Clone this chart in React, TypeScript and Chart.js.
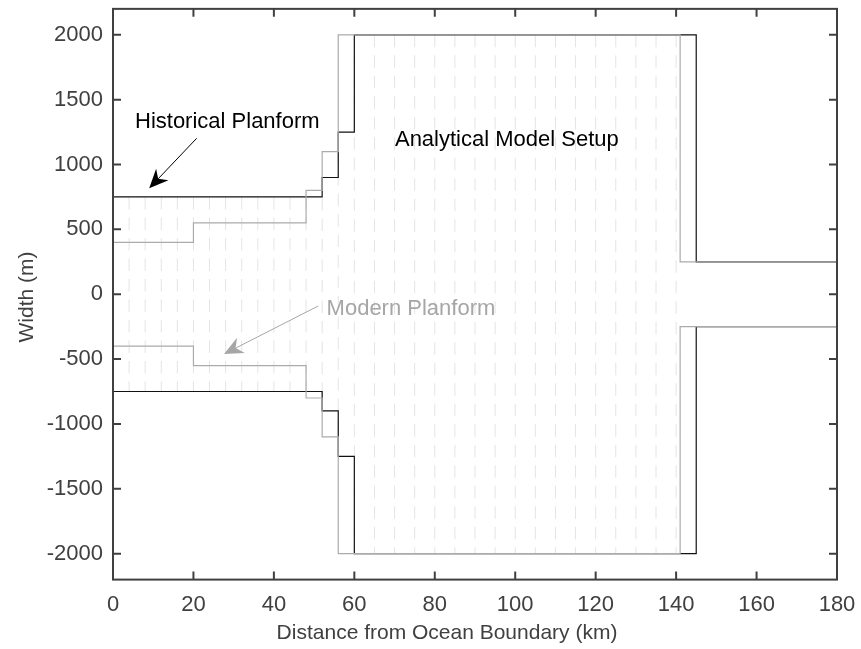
import React, { useEffect, useRef } from "react";
import { Chart, registerables } from "chart.js";

Chart.register(...registerables);

// Axis tick values
const xTicks = [0, 20, 40, 60, 80, 100, 120, 140, 160, 180];
const yTicks = [-2000, -1500, -1000, -500, 0, 500, 1000, 1500, 2000];

// Historical planform: half-width (m) beginning at each distance (km)
const historicalX = [0, 52, 56, 60, 145, 180];
const historicalW = [750, 900, 1250, 2000, 250, 250];

// Modern planform: half-width (m) beginning at each distance (km)
const modernX = [0, 20, 48, 52, 56, 141, 180];
const modernW = [400, 550, 800, 1100, 2000, 250, 250];

// Analytical model grid cell boundaries (km)
const gridX = [4, 8, 12, 16, 20, 24, 28, 32, 36, 40, 44, 48, 52, 56, 60, 65, 70, 75, 80, 85, 90, 95, 100, 105, 110, 115, 120, 125, 130, 135, 140];

// Annotations (data coordinates)
const historicalLabel = { text: "Historical Planform", x: 5.47, y: 1279 };
const historicalArrow = { fromX: 20.8, fromY: 1202, toX: 9.0, toY: 817 };
const modernLabel = { text: "Modern Planform", x: 53.1, y: -160 };
const modernArrow = { fromX: 51.0, fromY: -91, toX: 27.6, toY: -461 };
const modelLabel = { text: "Analytical Model Setup", x: 70.1, y: 1143 };

const xTitle = "Distance from Ocean Boundary (km)";
const yTitle = "Width (m)";

const FONT = "'Liberation Sans', Arial, Helvetica, sans-serif";
const AXIS = "#404040";
const BLACK = "#111111";
const GRAY = "#ababab";
const DASH = "#e4e4e4";

function widthAt(x: number): number {
  let w = historicalW[0];
  for (let i = 0; i < historicalX.length; i++) {
    if (historicalX[i] <= x) w = historicalW[i];
  }
  return w;
}

function outline(xs: number[], ws: number[], sign: number) {
  return xs.map((x, i) => ({ x, y: sign * ws[i] }));
}

function drawArrow(ctx: CanvasRenderingContext2D, x1: number, y1: number, x2: number, y2: number, color: string) {
  const dx = x2 - x1;
  const dy = y2 - y1;
  const len = Math.hypot(dx, dy);
  const ux = dx / len;
  const uy = dy / len;
  const px = -uy;
  const py = ux;
  const headLen = 19;
  const halfW = 8.5;
  const notch = 13;
  ctx.strokeStyle = color;
  ctx.fillStyle = color;
  ctx.lineWidth = 1;
  ctx.beginPath();
  ctx.moveTo(x1, y1);
  ctx.lineTo(x2 - ux * notch, y2 - uy * notch);
  ctx.stroke();
  ctx.beginPath();
  ctx.moveTo(x2, y2);
  ctx.lineTo(x2 - ux * headLen + px * halfW, y2 - uy * headLen + py * halfW);
  ctx.lineTo(x2 - ux * notch, y2 - uy * notch);
  ctx.lineTo(x2 - ux * headLen - px * halfW, y2 - uy * headLen - py * halfW);
  ctx.closePath();
  ctx.fill();
}

const decor = {
  id: "matlabDecor",
  afterDraw(chart: any) {
    const { ctx, chartArea: a, scales } = chart;
    const xs = scales.x;
    const ys = scales.y;
    ctx.save();
    // box
    ctx.strokeStyle = AXIS;
    ctx.lineWidth = 2;
    ctx.strokeRect(a.left, a.top, a.right - a.left, a.bottom - a.top);
    // inward ticks on all sides
    ctx.beginPath();
    const tl = 8;
    for (const v of xTicks) {
      const p = xs.getPixelForValue(v);
      ctx.moveTo(p, a.bottom);
      ctx.lineTo(p, a.bottom - tl);
      ctx.moveTo(p, a.top);
      ctx.lineTo(p, a.top + tl);
    }
    for (const v of yTicks) {
      const p = ys.getPixelForValue(v);
      ctx.moveTo(a.left, p);
      ctx.lineTo(a.left + tl, p);
      ctx.moveTo(a.right, p);
      ctx.lineTo(a.right - tl, p);
    }
    ctx.stroke();

    // axis titles
    ctx.fillStyle = AXIS;
    ctx.font = `21px ${FONT}`;
    ctx.textAlign = "center";
    ctx.textBaseline = "middle";
    ctx.fillText(xTitle, 447, 633);
    ctx.save();
    ctx.translate(27, 297);
    ctx.rotate(-Math.PI / 2);
    ctx.fillText(yTitle, 0, 0);
    ctx.restore();

    // annotations
    ctx.font = `22px ${FONT}`;
    ctx.textAlign = "left";
    ctx.textBaseline = "alphabetic";
    ctx.fillStyle = "#000000";
    ctx.fillText(historicalLabel.text, xs.getPixelForValue(historicalLabel.x), ys.getPixelForValue(historicalLabel.y));
    ctx.fillText(modelLabel.text, xs.getPixelForValue(modelLabel.x), ys.getPixelForValue(modelLabel.y));
    ctx.fillStyle = "#a6a6a6";
    ctx.fillText(modernLabel.text, xs.getPixelForValue(modernLabel.x), ys.getPixelForValue(modernLabel.y));

    drawArrow(
      ctx,
      xs.getPixelForValue(historicalArrow.fromX),
      ys.getPixelForValue(historicalArrow.fromY),
      xs.getPixelForValue(historicalArrow.toX),
      ys.getPixelForValue(historicalArrow.toY),
      "#000000"
    );
    drawArrow(
      ctx,
      xs.getPixelForValue(modernArrow.fromX),
      ys.getPixelForValue(modernArrow.fromY),
      xs.getPixelForValue(modernArrow.toX),
      ys.getPixelForValue(modernArrow.toY),
      "#a6a6a6"
    );
    ctx.restore();
  },
};

export default function App() {
  const ref = useRef<HTMLCanvasElement | null>(null);

  useEffect(() => {
    document.body.style.margin = "0";
    const canvas = ref.current;
    if (!canvas) return;

    const gridData: any[] = [];
    for (const gx of gridX) {
      const w = widthAt(gx);
      gridData.push({ x: gx, y: w });
      gridData.push({ x: gx, y: -w });
      gridData.push({ x: gx, y: null });
    }

    const lineDefaults = {
      showLine: true,
      pointRadius: 0,
      pointHoverRadius: 0,
      fill: false,
      tension: 0,
    };

    const chart = new Chart(canvas, {
      type: "scatter",
      data: {
        datasets: [
          { ...lineDefaults, label: "Modern top", data: outline(modernX, modernW, 1), borderColor: GRAY, borderWidth: 1.2, stepped: true, order: 1 },
          { ...lineDefaults, label: "Modern bottom", data: outline(modernX, modernW, -1), borderColor: GRAY, borderWidth: 1.2, stepped: true, order: 1 },
          { ...lineDefaults, label: "Historical top", data: outline(historicalX, historicalW, 1), borderColor: BLACK, borderWidth: 1.2, stepped: true, order: 2 },
          { ...lineDefaults, label: "Historical bottom", data: outline(historicalX, historicalW, -1), borderColor: BLACK, borderWidth: 1.2, stepped: true, order: 2 },
          { ...lineDefaults, label: "Model grid", data: gridData, borderColor: DASH, borderWidth: 1, borderDash: [12.5, 8], spanGaps: false, order: 3 },
        ] as any,
      },
      options: {
        responsive: false,
        animation: false,
        devicePixelRatio: 1,
        events: [],
        layout: { padding: { top: 8.86, right: 24, left: 0, bottom: 0 } },
        plugins: { legend: { display: false }, tooltip: { enabled: false } },
        scales: {
          x: {
            type: "linear",
            min: 0,
            max: 180,
            grid: { display: false, drawTicks: false },
            border: { display: false },
            afterBuildTicks: (s: any) => {
              s.ticks = xTicks.map((v) => ({ value: v }));
            },
            afterFit: (s: any) => {
              s.height = 69.4;
              s.paddingLeft = 0;
              s.paddingRight = 0;
            },
            ticks: {
              font: { family: FONT, size: 22 },
              color: AXIS,
              padding: 12,
              maxRotation: 0,
              autoSkip: false,
              callback: (v: any) => String(v),
            },
          },
          y: {
            type: "linear",
            min: -2200,
            max: 2200,
            grid: { display: false, drawTicks: false },
            border: { display: false },
            afterBuildTicks: (s: any) => {
              s.ticks = yTicks.map((v) => ({ value: v }));
            },
            afterFit: (s: any) => {
              s.width = 113;
              s.paddingTop = 0;
              s.paddingBottom = 0;
            },
            ticks: {
              font: { family: FONT, size: 22 },
              color: AXIS,
              padding: 10,
              autoSkip: false,
              callback: (v: any) => String(v),
            },
          },
        },
      },
      plugins: [decor],
    });

    return () => chart.destroy();
  }, []);

  return (
    <div style={{ position: "absolute", left: 0, top: 0, width: 861, height: 649, background: "#ffffff" }}>
      <canvas ref={ref} width={861} height={649} style={{ width: 861, height: 649, display: "block" }} />
    </div>
  );
}
